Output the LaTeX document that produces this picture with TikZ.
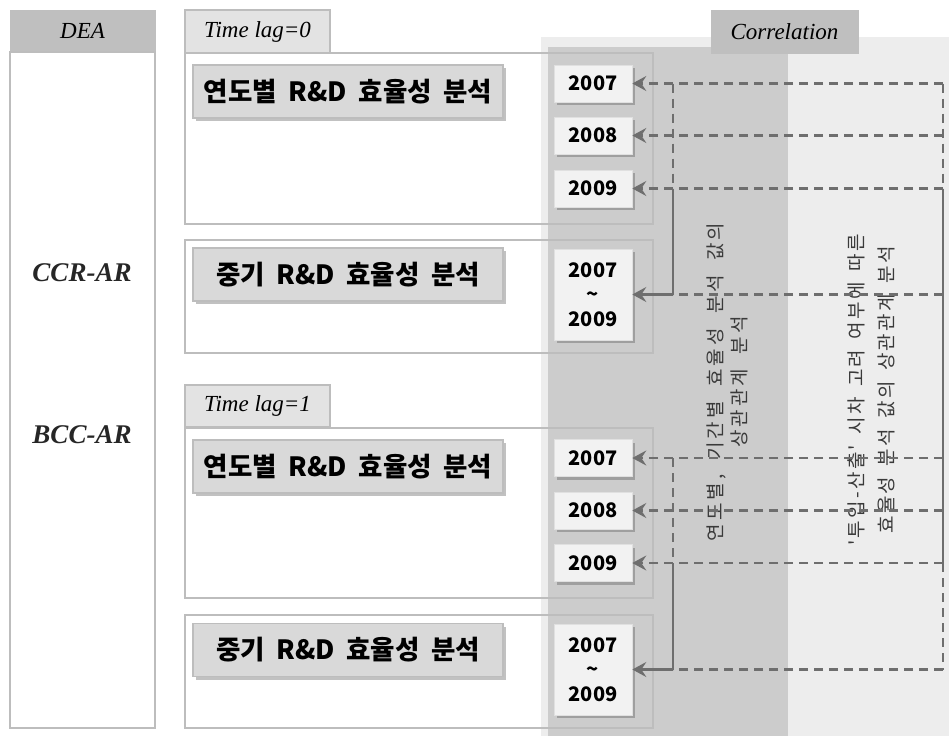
\documentclass[tikz,border=0pt]{standalone}
\usepackage{fontspec}
\newfontfamily\kor[WordSpace=1.9]{Noto Sans CJK KR}
\newfontfamily\korL[LetterSpace=16,WordSpace=2,Ligatures=TeXOff]{Noto Sans CJK KR}
\newfontfamily\korR[LetterSpace=12,WordSpace=1.6,Ligatures=TeXOff]{Noto Sans CJK KR}
\newfontfamily\serifit{Liberation Serif}
\usetikzlibrary{arrows.meta,shadows}
\definecolor{hdr}{HTML}{BFBFBF}
\definecolor{tabc}{HTML}{E3E3E3}
\definecolor{bord}{HTML}{BDBDBD}
\definecolor{boxc}{HTML}{D9D9D9}
\definecolor{yrc}{HTML}{F2F2F2}
\definecolor{colL}{HTML}{EDEDED}
\definecolor{colD}{HTML}{CCCCCC}
\definecolor{arr}{HTML}{6E6E6E}
\definecolor{txt}{HTML}{3A3A3A}
\begin{document}
\begin{tikzpicture}[x=1pt,y=-1pt,
  hdrbox/.style={draw=hdr, fill=hdr, line width=1pt, inner sep=0pt, font=\serifit\fontsize{23}{26}\selectfont\itshape},
  tabbox/.style={draw=bord, fill=tabc, line width=1.5pt, inner sep=0pt, font=\serifit\fontsize{23}{26}\selectfont\itshape},
  bodybox/.style={draw=bord, line width=2pt, inner sep=0pt},
  panel/.style={draw=bord, line width=1.6pt, inner sep=0pt},
  dmutext/.style={font=\serifit\fontsize{27}{30}\selectfont\bfseries\itshape, text=black!85},
  innerbox/.style={draw=bord, fill=boxc, line width=1.2pt, inner sep=0pt,
    minimum width=310pt, minimum height=53pt,
    drop shadow={shadow xshift=2.5pt, shadow yshift=-3pt, opacity=0.35, fill=black!70},
    font=\kor\bfseries\fontsize{26.5}{30}\selectfont},
  yearbox/.style={draw=black!12, fill=yrc, line width=0.6pt, inner sep=0pt,
    minimum width=78pt, minimum height=37pt, align=center,
    drop shadow={shadow xshift=2.5pt, shadow yshift=-3pt, opacity=0.35, fill=black!70},
    font=\kor\bfseries\fontsize{20}{24.5}\selectfont},
  rottext/.style={rotate=90, align=center, text=txt, inner sep=0pt},
  conn/.style={draw=arr, line width=2.4pt},
  dashline/.style={conn, dash pattern=on 9pt off 6pt},
  solidline/.style={conn},
  tipA/.style={-{Stealth[length=14pt,width=15pt,inset=5pt]}},
  dasharrow/.style={dashline, tipA},
  solidarrow/.style={solidline, tipA}
]
\useasboundingbox (0,0) rectangle (949,736);
% correlation background columns
\fill[colL] (541,37) rectangle (949,736);
\fill[colD] (548,47) rectangle (788,736);
% DEA column
\node[hdrbox, minimum width=145pt, minimum height=42pt] (deahead) at (82.5,31) {DEA};
\node[bodybox, minimum width=145pt, minimum height=676pt] (deabody) at (82.5,390) {};
\node[dmutext] (ccr) at (82,273) {CCR-AR};
\node[dmutext] (bcc) at (82,435) {BCC-AR};
% correlation tab
\node[hdrbox, minimum width=147pt, minimum height=43pt] (corrtab) at (784.5,31.5) {Correlation};
% time lag tabs and panels
\node[tabbox, minimum width=145pt, minimum height=43pt] (tab0) at (257.5,31.5) {Time lag=0};
\node[tabbox, minimum width=145pt, minimum height=42pt] (tab1) at (257.5,406) {Time lag=1};
\node[panel, minimum width=468pt, minimum height=171pt] (p1) at (419,138.5) {};
\node[panel, minimum width=468pt, minimum height=113pt] (p2) at (419,296.5) {};
\node[panel, minimum width=468pt, minimum height=170pt] (p3) at (419,513) {};
\node[panel, minimum width=468pt, minimum height=113pt] (p4) at (419,671.5) {};
% analysis boxes
\node[innerbox] (box1a) at (348,91.5) {연도별 R\&D 효율성 분석};
\node[innerbox] (box2a) at (348,274.5) {중기 R\&D 효율성 분석};
\node[innerbox] (box1b) at (348,466.5) {연도별 R\&D 효율성 분석};
\node[innerbox] (box2b) at (348,650) {중기 R\&D 효율성 분석};
% year boxes
\node[yearbox] (y07a) at (593,83.5) {2007};
\node[yearbox] (y08a) at (593,135.5) {2008};
\node[yearbox] (y09a) at (593,188.5) {2009};
\node[yearbox, minimum height=91pt] (ymida) at (593,294.5) {2007\\\textasciitilde\\2009};
\node[yearbox] (y07b) at (593,458) {2007};
\node[yearbox] (y08b) at (593,510.5) {2008};
\node[yearbox] (y09b) at (593,563) {2009};
\node[yearbox, minimum height=91pt] (ymidb) at (593,669.5) {2007\\\textasciitilde\\2009};
% rotated descriptions
\node[rottext, font=\korL\fontsize{19}{24}\selectfont] (txtL) at (727,382) {연도별, 기간별 효율성 분석 값의\\상관관계 분석};
\node[rottext, font=\korR\fontsize{19}{30}\selectfont] (txtR) at (871,390) {'투입-산출' 시차 고려 여부에 따른\\효율성 분석 값의 상관관계 분석};
% connector coordinates
\coordinate (LA1) at (673,83.5);
\coordinate (LA3) at (673,188.5);
\coordinate (LA4) at (673,294.5);
\coordinate (RA1) at (943,83.5);
\coordinate (RA2) at (943,135.5);
\coordinate (RA3) at (943,188.5);
\coordinate (RA4) at (943,294.5);
\coordinate (LB1) at (673,458);
\coordinate (LB3) at (673,563);
\coordinate (LB4) at (673,669.5);
\coordinate (RB1) at (943,458);
\coordinate (RB2) at (943,510.5);
\coordinate (RB3) at (943,563);
\coordinate (RB4) at (943,669.5);
% top group connectors
\draw[dasharrow] (RA1) -- (y07a.east);
\draw[dasharrow] (RA2) -- (y08a.east);
\draw[dasharrow] (RA3) -- (y09a.east);
\draw[dashline] (RA4) -- (LA4);
\draw[solidarrow] (LA4) -- (ymida.east);
\draw[dashline] (LA1) -- (LA3);
\draw[solidline] (LA3) -- (LA4);
% bottom group connectors
\draw[dasharrow] (RB1) -- (y07b.east);
\draw[dasharrow] (RB2) -- (y08b.east);
\draw[dasharrow] (RB3) -- (y09b.east);
\draw[dashline] (RB4) -- (LB4);
\draw[solidarrow] (LB4) -- (ymidb.east);
\draw[dashline] (LB1) -- (LB3);
\draw[solidline] (LB3) -- (LB4);
% right bracket
\draw[dashline] (RA1) -- (RA3);
\draw[solidline] (RA3) -- (RB3);
\draw[dashline] (RB3) -- (RB4);
\end{tikzpicture}
\end{document}
